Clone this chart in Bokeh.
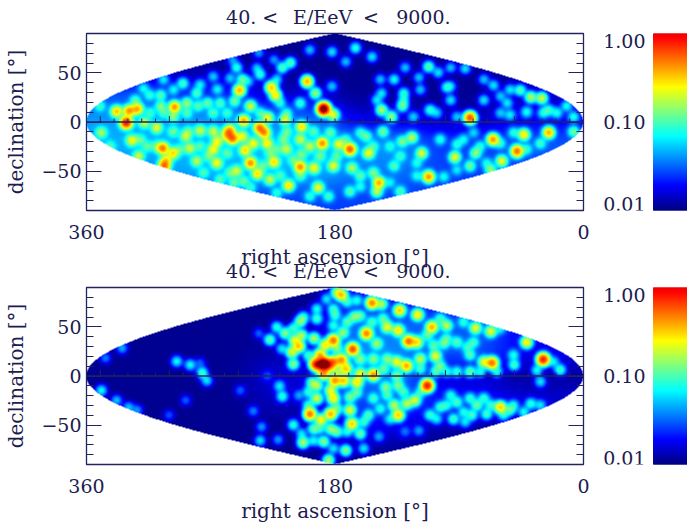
import numpy as np
from bokeh.embed import file_html
from bokeh.resources import INLINE
from bokeh.plotting import figure
from bokeh.layouts import row, column
from bokeh.models import FixedTicker, LogColorMapper, Range1d, LinearAxis
from bokeh.core.properties import value

TITLE_PARTS = ["40. <", "E/EeV", "<", "9000."]
TITLE_X = [240, 189, 154, 116]          # centre of each piece along the frame's x scale
XLABEL = "right ascension [°]"
YLABEL = "declination [°]"
X_TICKS = [360, 180, 0]
Y_TICKS = [-50, 0, 50]
Y_MINOR = [-80, -70, -60, -40, -30, -20, -10, 10, 20, 30, 40, 60, 70, 80]
RA_MAJOR = [350, 300, 250, 200, 150, 100, 50]
RA_MINOR = [340, 330, 320, 310, 290, 280, 270, 260, 240, 230, 220, 210, 190, 180, 170,
            160, 140, 130, 120, 110, 90, 80, 70, 60, 40, 30, 20, 10]
CB_TICKS = [1.0, 0.1, 0.01]
CB_LABELS = ["1.00", "0.10", "0.01"]

# broad level of each map on a coarse sky grid
BG_RA = [330, 270, 210, 150, 90, 30]
BG_DEC = [75, 50, 25, 0, -25, -50, -75]
bg_top = [[.011, .011, .011, .011, .011, .011],
          [.012, .012, .011, .011, .011, .012],
          [.030, .022, .014, .011, .011, .014],
          [.044, .044, .036, .016, .014, .018],
          [.048, .048, .052, .042, .026, .032],
          [.040, .048, .048, .036, .026, .026],
          [.026, .026, .026, .026, .026, .026]]
bg_bot = [[.011, .011, .011, .018, .020, .018],
          [.011, .011, .011, .034, .030, .018],
          [.011, .011, .012, .040, .030, .018],
          [.011, .011, .016, .036, .013, .011],
          [.011, .011, .014, .028, .022, .016],
          [.011, .011, .011, .018, .012, .011],
          [.011, .011, .011, .011, .011, .011]]

# hot spots: projected right ascension, declination, flux
top_x = [338, 329, 323, 331, 296, 287, 306, 318, 309, 327, 304.5, 297, 302, 303.5, 322, 349, 277.5, 268, 256, 258,
         254, 265, 246, 249, 251, 247, 252.5, 241, 234.5, 231, 228.5, 226, 223, 234, 218, 212, 200, 194, 188, 181,
         204, 216, 189, 177, 245, 241, 251, 265.4, 268, 280, 285, 288, 224, 236, 205, 213.5, 192, 195, 227, 247,
         239, 229, 215, 198, 205, 181, 297, 272, 306, 290, 280, 314, 304, 268, 224, 198, 182, 182, 235, 254,
         222, 265, 263, 279, 350,
         165, 153, 172, 112, 137, 129, 119, 96, 85.5, 105, 130, 146, 131, 139, 146, 111, 99, 82, 72, 91.5,
         45.6, 38, 30, 25, 41, 12, 7, 53, 65, 25, 43, 65.4, 48, 59, 78, 93, 117, 112, 148, 149.5,
         132.5, 169, 155.5, 124, 145, 157, 131, 167.5, 152, 137, 169, 161.5, 101, 82, 67, 7, 50.5, 91.5,
         342.6, 316, 297, 286, 292, 309, 321, 277.5, 271.4, 258, 275, 263, 253, 241, 256, 246, 232, 222, 217, 210,
         204, 219.5, 205, 198, 184.5, 222, 190.6, 178.5, 183, 195.4, 214.7, 226.8, 287, 313.7, 324.5, 304, 268, 258, 234, 219.5,
         214.7, 205, 318.5, 296.8, 277.5, 255.7, 242.5, 236.4,
         161.5, 152, 140, 132.5, 120.5, 103.6, 86.7, 74.6, 79.4, 60, 31, 41, 70, 91.5, 120.5, 140, 161.5, 172,
         130, 118, 96, 106, 60, 55, 29, 19, 60, 149.5, 123, 96, 72, 53, 147]
top_dec = [10.5, 11, 13, -1, 15, 19, 16, -1, -6, -19, -27, -32, -39, -45, -35, -11, -9, -10, -9, -13,
           -17, -20, 1, 32, 55, 43, 21, 16, -6, -11, 4, 35, 27, 48, 55, 60, 41, 29, 13, 7,
           -5, 2, -22, -23, -29, -42, -50, -42, -28, -40, -27, -15, -41, -53, -46, -65, -67, -47, -59, -15,
           -22, -22, -28, -25, -18, -45, 5, 19, 27, 39, 29, 27, 43, 46, 63, 73, 71, 36, 70, 63,
           43, 33, 19, 16, 16,
           75, 66, 61, 56, 43, 55, 45, 55, 54, 50, 29, 12, 16, 5, 29, 12, 35, 4, 22, 5,
           32, 25, 24, 12, 10, 16, 5, 7, 37, -11, -13, -18, -30, -40, -32, -36, -32, -56, -62, -71,
           -71, -28, -32, -16, -10, -15, -20, -47, -52, -45, -71, -55, -56, -45, -49, -10, -11, -23,
           -25, -25, -10, -10, -28, -25, -18, -25, -35, -32, -52, -59, -62, -67, -52, -60.6, -45, -28, -18, -39,
           -33, -55, -55, -76, -76, -72.5, -35, -35, -11, -10, -10, -32, 9, 9, 22, 9, 9, 9, 9, 19,
           9, 19, 34, 32.6, 37.7, 44.4, 41, 54.6,
           -11, -25, -25, -35, -42, -18, -18, -25, -11, -22, -22, -28, -42, -49, -55, -62, -66, -18,
           22, 32.6, 22, 9, 26, 19, 9, 9, 9, 22, 5, 36, 43, 32.6, 43]
top_flux = [.30, .40, .35, .80, .40, .12, .10, .15, .18, .20, .45, .25, .22, .50, .15, .12, .15, .15, .35, .30,
            .50, .20, .35, .35, .07, .10, .10, .17, .45, .40, .20, .30, .25, .07, .09, .09, .35, .13, 1.5, .20,
            .25, .18, .40, .20, .25, .40, .15, .20, .20, .13, .15, .14, .25, .25, .40, .25, .20, .20, .15, .20,
            .20, .22, .14, .14, .15, .18, .10, .09, .08, .08, .08, .06, .05, .04, .03, .04, .05, .04, .03, .03,
            .05, .05, .08, .08, .06,
            .07, .05, .04, .10, .06, .04, .04, .04, .05, .05, .07, .15, .10, .13, .05, .07, .06, .60, .05, .04,
            .09, .15, .18, .07, .06, .06, .06, .05, .05, .35, .25, .40, .50, .20, .12, .20, .18, .40, .35, .15,
            .08, .55, .20, .15, .10, .08, .10, .13, .10, .07, .08, .08, .05, .10, .12, .10, .06, .06,
            .06, .07, .08, .07, .06, .08, .07, .06, .08, .07, .06, .07, .08, .06, .07, .08, .07, .06, .08, .07,
            .08, .06, .07, .06, .07, .06, .08, .07, .08, .07, .08, .07, .07, .06, .07, .06, .07, .06, .07, .06,
            .06, .07, .05, .05, .05, .04, .04, .04,
            .06, .06, .05, .06, .05, .06, .05, .06, .04, .06, .07, .06, .05, .04, .05, .04, .05, .06,
            .05, .04, .05, .04, .04, .05, .06, .06, .04, .05, .04, .04, .04, .05, .04]

bot_x = [294.4, 284.7, 276, 272.6, 277.5, 349, 338, 329.3, 323, 334, 346, 248.5, 288, 300, 239, 233, 234, 221, 218, 220,
         227, 235, 206, 229, 222, 216, 209, 206, 211, 204, 195, 181, 187, 190.6, 194, 188, 192, 184.5, 181, 188,
         180, 210, 218.3, 193, 196.6, 183, 193, 181, 198, 183, 190, 195.4, 183, 188, 203, 184.5, 178.5, 181, 186, 178.5,
         193, 205,
         175, 153, 164, 146, 133, 120, 109.6, 99, 78, 67, 41, 29, 16.7, 50, 66, 72, 107, 103.6, 128, 135,
         126.5, 134, 142, 120.5, 157, 167, 175, 172, 152, 161.5, 142, 149.5, 166, 174, 145, 113, 134, 143, 122, 137,
         134, 128, 169, 167.5, 161.5, 172, 148, 129, 169, 155.5, 164, 173.6, 60, 77, 91.5, 103.6, 111, 94, 80.6, 70,
         53, 38, 119, 31, 82, 91.5, 107, 50.5, 84, 82, 101, 118, 33.6,
         202.6, 193, 181, 210, 199, 199, 199, 190.6, 210, 181, 178.5, 178.5, 195.4, 204, 179.7, 178.5,
         171, 161.5, 153, 171, 161.5, 152, 144.6, 135, 118, 113, 99, 108.4, 79.4, 91.5, 103.6, 86.7, 74.6, 62.5, 98.8, 21.5,
         60, 164, 152, 142, 130, 147, 159, 171, 159, 140, 118, 98.8, 86.7, 106, 96, 82, 72, 67, 50.5, 43,
         31, 57.7, 85.5]
bot_dec = [14.6, 11, 3, -5, 13, -15, -25, -32, -35, 28, 18, -15, -25, -40, -36, -52, -66, -65, -21, -10.5,
           36.6, 43, -20, 0, 49.5, 43, 36, 30, 24, 41, 38, 36, 31, 21, 12, 12, 11, 10.5, 14, 2,
           -5, 12, 27.5, -10, -7, -15, -23, -23, -39, -39, -45, -54, -54, -67, -68, -86, -57, 51, 78, 85,
           58, 55,
           82, 74, 76.6, 73, 66.5, 62, 49.5, 51, 48.5, 45, 34, 16.6, 6, 11, 13, 14, 20, 10, 10, 14,
           35, 46, 49.5, 34, 43, 27, 16, 7, 1, 2, 17, 32.6, 60, 44, 58, -10, -10, -11.5, -25, -30,
           -40, -28.5, -35, -49, -59, -76, -62, -57, -22, -40, -6.5, -5, -32, -30, -27, -32, -40, -44, -40, -39,
           -35, -28.5, -56, -6, 4, 4, 4, 21, 29, 21, 32.6, 17, 5.5,
           59.7, 68, 68, 48, 20.7, -16.6, -30, -54, -50, -74, -33.6, 4, -66, -59, 61.4, 27.5,
           75, 61, 54.6, 54.6, 17, 17, 7, 0, 7, 41, 37.6, 31, 34, 34, 58, 54.6, 4, 4, 4, 14,
           48, -17, -23, -20, -17, -33.6, -47, -57, -74, -44, -17, -30, -37, -44, -20, -23, -23, -30, -30, -37,
           -30, -40, -47]
bot_flux = [.06, .06, .08, .05, .02, .06, .04, .04, .03, .035, .025, .02, .02, .018, .025, .03, .05, .03, .07, .05,
            .10, .02, .03, .015, .07, .12, .20, .30, .20, .15, .15, .50, .25, .35, .50, 1.7, .50, .50, .45, .40,
            .40, .12, .05, .15, .10, .20, .18, .25, .50, .35, .25, .10, .12, .12, .15, .15, .10, .06, .05, .15,
            .08, .12,
            .30, .45, .06, .15, .30, .25, .35, .15, .20, .20, .25, .80, .08, .08, .50, .20, .20, .10, .35, .20,
            .50, .25, .20, .25, .45, .60, .40, .30, .40, .20, .10, .12, .10, .12, .08, .80, .10, .10, .18, .15,
            .30, .15, .20, .30, .10, .12, .03, .02, .10, .08, .25, .30, .30, .10, .08, .07, .07, .08, .08, .08,
            .08, .07, .03, .05, .10, .07, .08, .06, .06, .08, .08, .15, .06,
            .07, .06, .07, .08, .08, .07, .08, .06, .07, .05, .10, .12, .06, .05, .07, .10,
            .07, .08, .07, .08, .10, .10, .08, .10, .07, .08, .07, .08, .07, .08, .07, .06, .06, .06, .06, .05,
            .05, .08, .07, .07, .07, .06, .07, .06, .05, .05, .06, .06, .06, .05, .06, .07, .07, .07, .06, .06,
            .05, .06, .05]

PX_X, PX_Y = 497 / 360, 177 / 180      # pixels per degree of the frame
SIGMA = 3.4                            # spot radius in pixels
NX, NY = 994, 354
gx = (np.arange(NX) + .5) * 360 / NX
gy = -90 + (np.arange(NY) + .5) * 180 / NY
GX, GY = np.meshgrid(gx, gy)


def make_map(bg, xs, ds, fs):
    w_sum = np.zeros_like(GX)
    v_sum = np.zeros_like(GX)
    b = np.array(bg)
    for i in range(b.shape[0]):
        for j in range(b.shape[1]):
            w = np.exp(-(((GX - BG_RA[j]) / 28) ** 2 + ((GY - BG_DEC[i]) / 18) ** 2))
            w_sum += w
            v_sum += w * b[i, j]
    f = v_sum / w_sum
    for x, d, a in zip(xs, ds, fs):
        f += a * np.exp(-(((GX - x) * PX_X) ** 2 + ((GY - d) * PX_Y) ** 2) / (2 * SIGMA ** 2))
    f[np.abs(GX - 180) > 180 * np.cos(np.radians(GY))] = np.nan
    return f


def jet(t):
    r = np.clip(1.5 - np.abs(4 * t - 3), 0, 1)
    g = np.clip(1.5 - np.abs(4 * t - 2), 0, 1)
    b = np.clip(1.5 - np.abs(4 * t - 1), 0, 1)
    return "#%02x%02x%02x" % (int(r * 255), int(g * 255), int(b * 255))


PALETTE = [jet(t) for t in np.linspace(0, .89, 256)]
NAVY = "#23235f"
INK = "#1c1c50"
SERIF = "DejaVu Serif"


def panel(bg, xs, ds, fs, top, bottom):
    p = figure(frame_width=497, frame_height=177, output_backend="svg", toolbar_location=None,
               x_range=Range1d(360, 0), y_range=Range1d(-90, 90), border_fill_color=None,
               min_border_left=86, min_border_right=10, min_border_top=top, min_border_bottom=bottom)
    mapper = LogColorMapper(palette=PALETTE, low=.01, high=1, high_color="#8b0000", nan_color=(0, 0, 0, 0))
    p.image(image=[make_map(bg, xs, ds, fs)], x=0, y=-90, dw=360, dh=180, color_mapper=mapper)
    p.segment(x0=[360], y0=[0], x1=[0], y1=[0], line_color=NAVY, line_width=1.3)
    p.segment(x0=RA_MAJOR, y0=[0] * len(RA_MAJOR), x1=RA_MAJOR, y1=[6] * len(RA_MAJOR), line_color=NAVY, line_width=1)
    p.segment(x0=RA_MINOR, y0=[0] * len(RA_MINOR), x1=RA_MINOR, y1=[3.5] * len(RA_MINOR), line_color=NAVY, line_width=1)
    p.grid.visible = False
    p.outline_line_color = NAVY
    p.outline_line_width = 1.3
    p.xaxis.ticker = FixedTicker(ticks=X_TICKS)
    p.xaxis.axis_line_color = None
    p.xaxis.major_tick_line_color = None
    p.xaxis.minor_tick_line_color = None
    p.xaxis.major_label_standoff = 8
    p.xaxis.axis_label = XLABEL
    p.xaxis.axis_label_standoff = 3
    p.yaxis.ticker = FixedTicker(ticks=Y_TICKS, minor_ticks=Y_MINOR)
    p.yaxis.axis_line_color = NAVY
    p.yaxis.major_tick_in = 15
    p.yaxis.major_tick_out = 0
    p.yaxis.minor_tick_in = 7
    p.yaxis.minor_tick_out = 0
    p.yaxis.major_tick_line_color = NAVY
    p.yaxis.minor_tick_line_color = NAVY
    p.yaxis.major_label_standoff = 5
    p.yaxis.axis_label = YLABEL
    p.yaxis.axis_label_standoff = 10
    for ax in (p.xaxis[0], p.yaxis[0]):
        ax.major_label_text_font = SERIF
        ax.major_label_text_font_size = "19px"
        ax.major_label_text_color = INK
        ax.axis_label_text_font = SERIF
        ax.axis_label_text_font_size = "20px"
        ax.axis_label_text_font_style = "normal"
        ax.axis_label_text_color = INK
    p.yaxis.major_label_orientation = "horizontal"
    right = LinearAxis(ticker=FixedTicker(ticks=Y_TICKS, minor_ticks=Y_MINOR), axis_line_color=NAVY,
                       major_tick_in=15, major_tick_out=0, minor_tick_in=7, minor_tick_out=0,
                       major_tick_line_color=NAVY, minor_tick_line_color=NAVY,
                       major_label_text_font_size="0px", major_label_standoff=0)
    right.major_label_overrides = {t: "" for t in Y_TICKS}
    p.add_layout(right, "right")
    head = LinearAxis(ticker=FixedTicker(ticks=TITLE_X), axis_line_color=None, major_tick_line_color=None,
                      minor_tick_line_color=None, major_label_standoff=0, major_label_text_font=SERIF,
                      major_label_text_font_size="19px", major_label_text_color=INK)
    head.major_label_overrides = dict(zip(TITLE_X, TITLE_PARTS))
    p.add_layout(head, "above")
    return p


def colorbar(top, bottom):
    c = figure(frame_width=94, frame_height=177, output_backend="svg", toolbar_location=None,
               x_range=Range1d(-60, 34), y_range=Range1d(.01, 1), y_axis_type="log", border_fill_color=None,
               min_border_left=0, min_border_right=0, min_border_top=top, min_border_bottom=bottom)
    edges = np.logspace(-2, 0, len(PALETTE) + 1)
    c.quad(left=0, right=34, bottom=edges[:-1], top=edges[1:], fill_color=PALETTE, line_color=PALETTE)
    c.text(x=[-8] * 3, y=CB_TICKS, text=CB_LABELS, text_align="right",
           text_baseline=["top", "middle", "bottom"], text_font=value(SERIF), text_font_size="19px",
           text_color=INK)
    c.axis.visible = False
    c.grid.visible = False
    c.outline_line_color = None
    c.background_fill_color = None
    return c


p1 = panel(bg_top, top_x, top_dec, top_flux, 33, 45)
p2 = panel(bg_bot, bot_x, bot_dec, bot_flux, 31, 45)
page = column(row(p1, colorbar(33, 45), spacing=0),
              row(p2, colorbar(31, 45), spacing=0, margin=(-15, 0, 0, 0)), spacing=0)
open("out.html", "w").write(file_html(page, INLINE))
